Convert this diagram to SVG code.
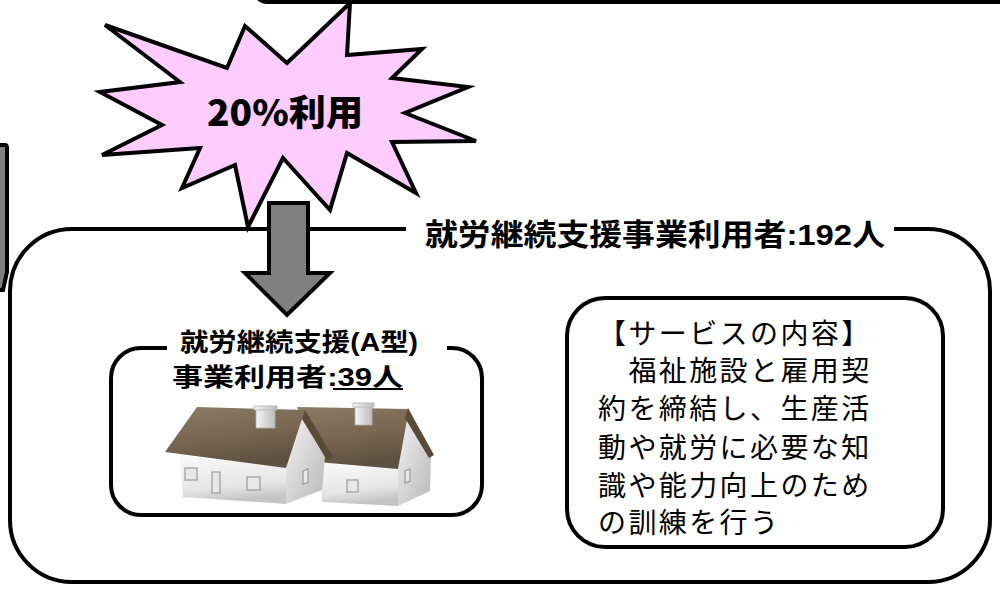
<svg xmlns="http://www.w3.org/2000/svg" width="1000" height="592" viewBox="0 0 1000 592">
  <defs>
    <style>
      .frame { fill: #ffffff; stroke: #000000; stroke-width: 4; }
      .burst { fill: #ffccff; stroke: #000000; stroke-width: 4; stroke-linejoin: miter; }
      .arrow { fill: #808080; stroke: #000000; stroke-width: 4; stroke-linejoin: miter; }
      .label { font-family: "Liberation Sans", "Noto Sans CJK JP", sans-serif; font-weight: bold; fill: #000000; }
      .body { font-family: "Noto Sans CJK JP", sans-serif; font-size: 28px; letter-spacing: 2.4px; fill: #000000; }
      .burst-text { font-family: "Noto Sans CJK JP", sans-serif; font-weight: 900; font-size: 36px; fill: #000000; }
      .roof { fill: url(#roofGrad); }
      .roof-edge { fill: #5a4a38; }
      .wall { fill: url(#wallGrad); }
      .gable { fill: url(#gableGrad); }
      .window { fill: #e8e8e8; stroke: #9a9a9a; stroke-width: 1.2; }
      .chimney { fill: url(#chimGrad); stroke: #b0b0b0; stroke-width: 0.8; }
    </style>
    <linearGradient id="roofGrad" x1="0" y1="0" x2="0.3" y2="1">
      <stop offset="0" stop-color="#8c7b64"/>
      <stop offset="0.6" stop-color="#76644f"/>
      <stop offset="1" stop-color="#5f5040"/>
    </linearGradient>
    <linearGradient id="wallGrad" x1="0" y1="0" x2="0.2" y2="1">
      <stop offset="0" stop-color="#fafafa"/>
      <stop offset="0.7" stop-color="#e6e6e6"/>
      <stop offset="1" stop-color="#c4c4c4"/>
    </linearGradient>
    <linearGradient id="gableGrad" x1="0" y1="0" x2="1" y2="1">
      <stop offset="0" stop-color="#f2f2f2"/>
      <stop offset="1" stop-color="#b8b8b8"/>
    </linearGradient>
    <linearGradient id="chimGrad" x1="0" y1="0" x2="1" y2="0">
      <stop offset="0" stop-color="#f4f4f4"/>
      <stop offset="1" stop-color="#bdbdbd"/>
    </linearGradient>
  </defs>

  <!-- frame edge of the panel above -->
  <g id="upper-panel">
    <rect class="frame" x="255" y="-40" width="800" height="42" rx="12"/>
  </g>

  <!-- cut-off arrow at the left margin -->
  <g id="left-arrow">
    <path class="arrow" d="M -10 145 H 5 Q 7 145 7 148 V 272 L 3 290 L -10 290 Z"/>
  </g>

  <!-- outer panel: all users of the support service -->
  <g id="outer-panel">
    <rect class="frame" x="10" y="229" width="980" height="353" rx="62"/>
    <rect x="406" y="214" width="488" height="34" fill="#ffffff"/>
    <text class="label" x="425" y="245" font-size="30" textLength="460" lengthAdjust="spacingAndGlyphs">就労継続支援事業利用者:192人</text>
  </g>

  <!-- inner panel: type A users -->
  <g id="type-a-panel">
    <rect class="frame" x="111" y="348" width="371" height="167" rx="30"/>
    <rect x="167" y="336" width="280" height="24" fill="#ffffff"/>
    <text class="label" x="180" y="351" font-size="25" textLength="238" lengthAdjust="spacingAndGlyphs">就労継続支援(A型)</text>
    <text class="label" x="172" y="386" font-size="25" textLength="231" lengthAdjust="spacingAndGlyphs">事業利用者:39人</text>
    <rect x="333" y="388" width="70" height="2" fill="#000000"/>
  </g>

  <!-- two houses -->
  <g id="houses">
    <!-- rear house -->
    <g id="house-right">
      <polygon class="wall" points="320,462 398,468 398,506 322,502"/>
      <polygon class="gable" points="407,418 398,468 398,506 430,491 431,456"/>
      <polygon class="roof" points="297,407 409,409 398,469 318,462"/>
      <polygon class="roof-edge" points="408,408 434,455 429,458 405,418"/>
      <rect class="chimney" x="355" y="405" width="17" height="20"/>
      <rect class="chimney" x="353" y="403" width="21" height="4"/>
      <rect class="window" x="347" y="480" width="11" height="12"/>
      <polygon class="window" points="405,471 410,469 410,481 405,483"/>
    </g>
    <!-- front house -->
    <g id="house-left">
      <polygon class="wall" points="180,455 286,467 286,504 183,497"/>
      <polygon class="gable" points="303,418 286,467 286,504 322,490 325,457"/>
      <polygon class="roof" points="197,407 305,410 286,468 165,452"/>
      <polygon class="roof-edge" points="305,410 333,457 327,460 302,419"/>
      <rect class="chimney" x="256" y="408" width="19" height="20"/>
      <rect class="chimney" x="254" y="406" width="23" height="4"/>
      <rect class="window" x="185" y="468" width="12" height="12"/>
      <rect class="window" x="212" y="472" width="8" height="21"/>
      <rect class="window" x="247" y="477" width="13" height="13"/>
      <polygon class="window" points="303,471 308,469 308,482 303,484"/>
    </g>
  </g>

  <!-- service description box -->
  <g id="service-box">
    <rect class="frame" x="567" y="298" width="376" height="249" rx="38"/>
    <text class="body" x="598" y="344">【サービスの内容】</text>
    <text class="body" x="598" y="381">　福祉施設と雇用契</text>
    <text class="body" x="598" y="419">約を締結し、生産活</text>
    <text class="body" x="598" y="458">動や就労に必要な知</text>
    <text class="body" x="598" y="496">識や能力向上のため</text>
    <text class="body" x="598" y="533">の訓練を行う</text>
  </g>

  <!-- starburst callout -->
  <g id="burst">
    <polygon class="burst" points="350,3 347,55 422,49 392,78 468,87 405,113 476,141 392,142 416,193 347,153 330,210 283,158 248,227 235,165 182,188 200,148 102,155 162,125 100,92 180,82 105,25 227,68 245,26 287,63"/>
    <text class="burst-text" x="207" y="126" textLength="156" lengthAdjust="spacingAndGlyphs">20%利用</text>
  </g>

  <!-- connector: burst down to the type A panel -->
  <g id="connectors">
    <polygon class="arrow" points="269,203 308,203 308,273 330,273 287,315 245,273 269,273"/>
  </g>
</svg>
